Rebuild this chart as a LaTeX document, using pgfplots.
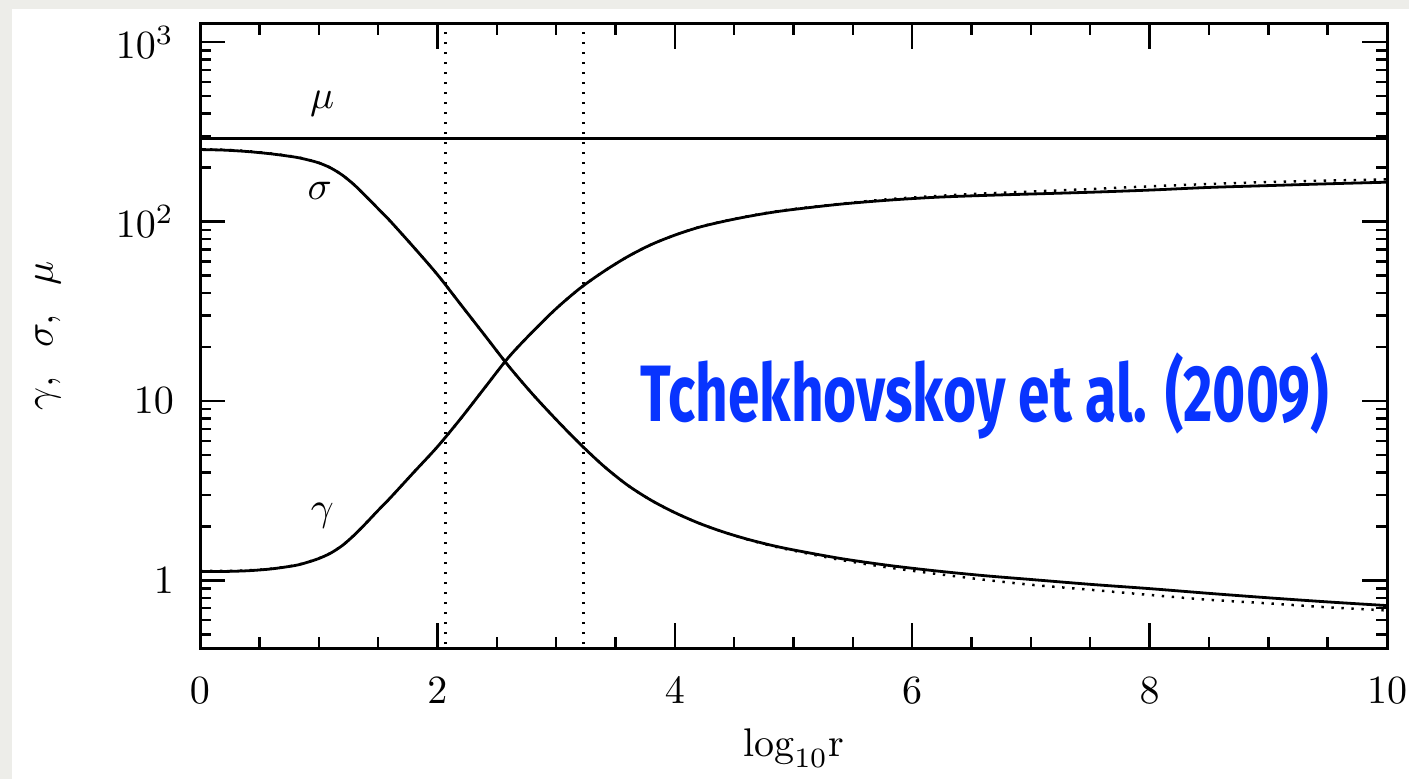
\documentclass[border=0pt]{standalone}
\usepackage{pgfplots}
\pgfplotsset{compat=1.18}
\usepackage{graphicx}
\usepackage{fontspec}
\newfontfamily\notefont{Fira Sans}
\definecolor{pagegray}{RGB}{237,237,233}
\definecolor{noteblue}{RGB}{8,52,255}

\tikzset{dotline/.style={line width=0.62pt,dash pattern=on 0.6pt off 1.9pt}}

\begin{document}
\begin{tikzpicture}
% page frame (pixel units, origin at top-left)
\begin{scope}[x=0.25pt,y=-0.25pt,shift={(-50pt,162pt)}]
  \fill[pagegray] (0,0) rectangle (1409,779);
  \fill[white] (12,9) rectangle (1409,779);
\end{scope}

\begin{axis}[
  at={(0,0)}, anchor=south west,
  scale only axis,
  width=296.75pt, height=156pt,
  ymode=log,
  xmin=0, xmax=10, ymin=0.42, ymax=1265,
  xtick={0,2,4,6,8,10},
  minor x tick num=3,
  ytick={1,10,100,1000},
  yticklabels={$1$,$10$,$10^2$,$10^3$},
  minor ytick={0.4,0.5,0.6,0.7,0.8,0.9,2,3,4,5,6,7,8,9,20,30,40,50,60,70,80,90,200,300,400,500,600,700,800,900},
  tick align=inside,
  axis line style={line width=0.75pt},
  tick style={line width=0.6pt,black},
  major tick length=6.3pt,
  minor tick length=2.8pt,
  xticklabel style={yshift=-4pt},
  yticklabel style={xshift=-3pt},
  xlabel={$\mathrm{log}_{10}\mathrm{r}$},
  ylabel={$\gamma,\;\;\sigma,\;\;\mu$},
  every axis x label/.style={at={(axis description cs:0.5,0)},yshift=-25pt,anchor=center},
  every axis y label/.style={at={(axis description cs:0,0.5)},xshift=-38pt,rotate=90,anchor=center},
  clip=true,
]
% vertical markers
\addplot[dotline] coordinates {(2.07,0.3) (2.07,2000)};
\addplot[dotline] coordinates {(3.23,0.3) (3.23,2000)};

% mu
\addplot[line width=0.7pt] coordinates {(0,292) (10,292)};

% sigma, numerical
\addplot[line width=0.7pt,smooth] coordinates {
(0.0,252.4) (0.2,250.6) (0.4,246.0) (0.6,238.8) (0.8,229.1) (0.9,221.8) (1.0,212.8)
(1.1,199.5) (1.2,181.6) (1.3,160.3) (1.4,138.0) (1.5,118.3) (1.6,101.2)
(1.8,72.1) (2.0,50.7) (2.2,34.3) (2.4,23.2) (2.6,15.67)
(2.8,10.96) (3.0,7.89) (3.2,5.78) (3.4,4.345) (3.6,3.404) (3.8,2.80) (4.0,2.388)
(4.2,2.089) (4.4,1.871) (4.6,1.706) (4.8,1.578) (5.0,1.479) (5.4,1.324) (5.8,1.213)
(6.2,1.130) (6.6,1.064) (7.0,1.012) (7.5,0.951) (8.0,0.90) (8.5,0.847) (9.0,0.80)
(9.5,0.759) (10,0.724)};
% sigma, approximation
\addplot[dotline,smooth] coordinates {
(0.0,254) (0.2,252) (0.4,247.5) (0.6,240) (0.8,230) (0.9,222.5) (1.0,213.3)
(1.1,199.8) (1.2,181.8) (1.3,160.3) (1.4,138.0) (1.5,118.3) (1.6,101.2)
(1.8,72.1) (2.0,50.7) (2.2,34.3) (2.4,23.2) (2.6,15.67)
(2.8,10.96) (3.0,7.89) (3.2,5.78) (3.4,4.345) (3.6,3.404) (3.8,2.80) (4.0,2.388)
(4.2,2.089) (4.4,1.871) (4.6,1.700) (4.8,1.568) (5.0,1.465) (5.4,1.300) (5.8,1.180)
(6.2,1.088) (6.6,1.010) (7.0,0.946) (7.5,0.887) (8.0,0.83) (8.5,0.78) (9.0,0.745)
(9.5,0.708) (10,0.68)};

% gamma, numerical
\addplot[line width=0.7pt,smooth] coordinates {
(0.0,1.122) (0.2,1.122) (0.4,1.132) (0.6,1.159) (0.8,1.211) (0.9,1.259) (1.0,1.324)
(1.1,1.419) (1.2,1.567) (1.3,1.791) (1.4,2.089) (1.5,2.455) (1.6,2.871)
(1.8,4.0) (2.0,5.56) (2.2,8.04) (2.4,11.89) (2.6,17.54)
(2.8,24.27) (3.0,32.73) (3.2,42.46) (3.4,52.72) (3.6,63.68) (3.8,74.47) (4.0,84.14)
(4.2,92.9) (4.4,100) (4.6,106.4) (4.8,112.2) (5.0,117.0) (5.4,125.3) (5.8,131.8)
(6.2,136.8) (6.6,140.0) (7.0,142.6) (7.5,145.9) (8.0,150.0) (8.5,155.2) (9.0,158.9)
(9.5,162.6) (10,166.0)};
% gamma, approximation
\addplot[dotline,smooth] coordinates {
(0.0,1.13) (0.2,1.13) (0.4,1.138) (0.6,1.163) (0.8,1.214) (0.9,1.262) (1.0,1.327)
(1.1,1.421) (1.2,1.568) (1.3,1.791) (1.4,2.089) (1.5,2.455) (1.6,2.871)
(1.8,4.0) (2.0,5.56) (2.2,8.04) (2.4,11.89) (2.6,17.54)
(2.8,24.27) (3.0,32.73) (3.2,42.46) (3.4,52.72) (3.6,63.68) (3.8,74.47) (4.0,84.14)
(4.2,93.1) (4.4,100.3) (4.6,106.8) (4.8,112.7) (5.0,117.6) (5.4,125.9) (5.8,133.4)
(6.2,139.0) (6.6,143.5) (7.0,147.2) (7.5,152.0) (8.0,157.4) (8.5,162.2) (9.0,166.3)
(9.5,169.4) (10,172.2)};

% curve labels
\node at (axis cs:1.03,456) {$\mu$};
\node at (axis cs:1.01,149) {$\sigma$};
\node at (axis cs:1.03,2.28) {$\gamma$};

\node[anchor=base west,inner sep=0pt,text=noteblue] at (axis cs:3.707,7.73)
  {\scalebox{0.71}[1]{\fontsize{20}{24}\selectfont\notefont\bfseries Tchekhovskoy et al. (2009)}};
\end{axis}

% fixed page size
\pgfresetboundingbox
\begin{scope}[x=0.25pt,y=-0.25pt,shift={(-50pt,162pt)}]
  \useasboundingbox (0,0) rectangle (1409,779);
\end{scope}
\end{tikzpicture}
\end{document}
